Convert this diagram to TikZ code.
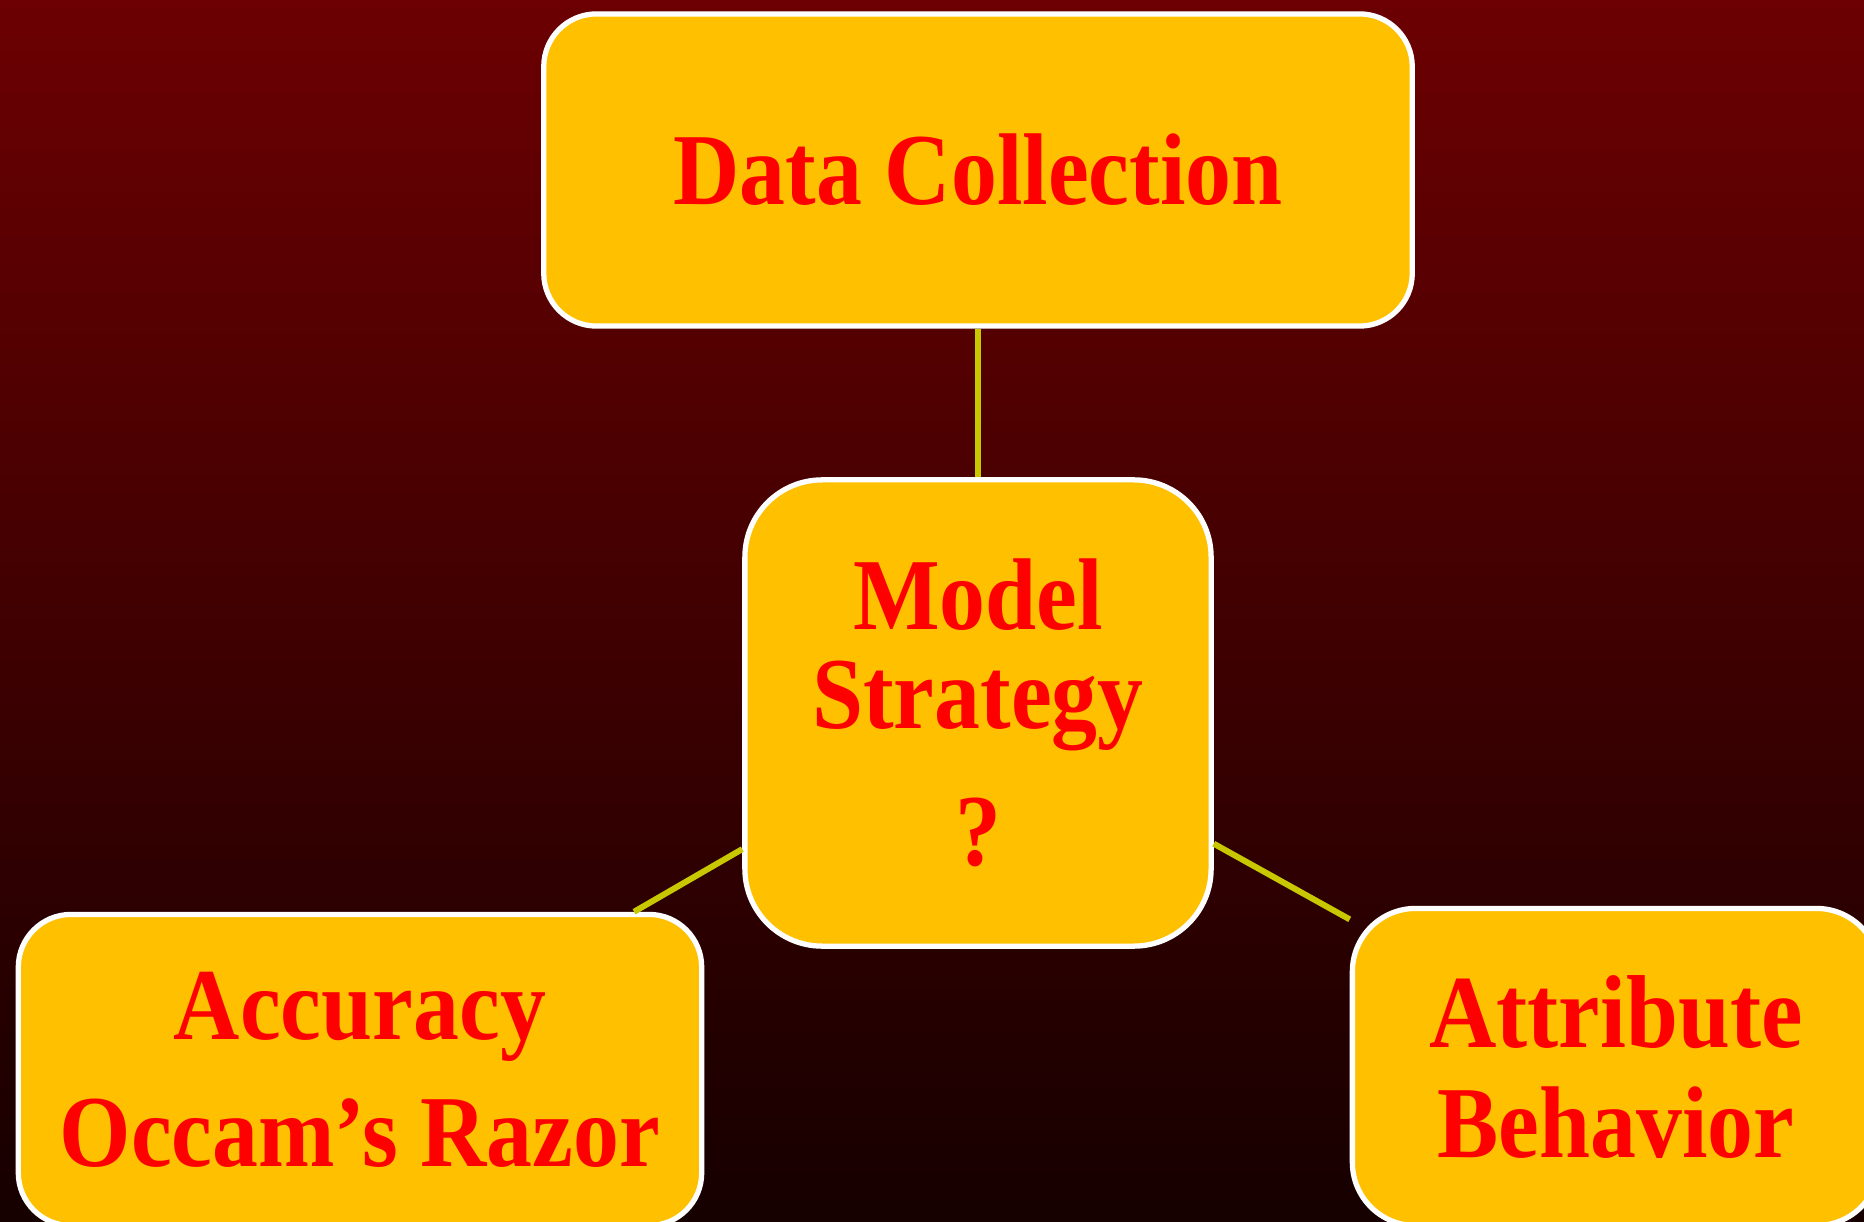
\documentclass[tikz,border=0pt]{standalone}
\usepackage{fontspec}
\setmainfont{Liberation Serif}[FakeStretch=0.9]
\definecolor{bgtop}{RGB}{108,0,2}
\definecolor{bgbot}{RGB}{22,0,0}
\definecolor{boxfill}{RGB}{255,192,0}
\definecolor{linkcol}{RGB}{200,200,0}
\tikzset{
	stepbox/.style={draw=white,line width=1.5pt,fill=boxfill,rounded corners=#1,
		text=red,align=center,font=\bfseries\fontsize{29}{31}\selectfont},
	link/.style={draw=linkcol,line width=1.7pt}
}
\begin{document}
\begin{tikzpicture}[x=0.01cm,y=-0.01cm]
			\useasboundingbox (0,0) rectangle (1864,1222);
			\fill[top color=bgtop,bottom color=bgbot] (0,0) rectangle (1864,1222);
			\node[stepbox=15pt,minimum width=8.68cm,minimum height=3.12cm] (data) at (978,170) {Data Collection};
			\node[stepbox=22pt,minimum width=4.66cm,minimum height=4.66cm] (model) at (978,713) {Model\\[-3pt]Strategy\\[8pt]?};
			\node[stepbox=15pt,minimum width=6.83cm,minimum height=3.11cm] (acc) at (360,1070) {Accuracy\\[5pt]Occam’s Razor};
			\node[stepbox=18pt,minimum width=5.27cm,minimum height=3.17cm] (attr) at (1616,1067) {\fontsize{29.5}{31}\selectfont Attribute\\[0pt]Behavior};
			\draw[link] (data.south) -- (model.north);
			\draw[link] (model.210) -- (acc.30);
			\draw[link] (model.331) -- (attr.151);
		\end{tikzpicture}
\end{document}
